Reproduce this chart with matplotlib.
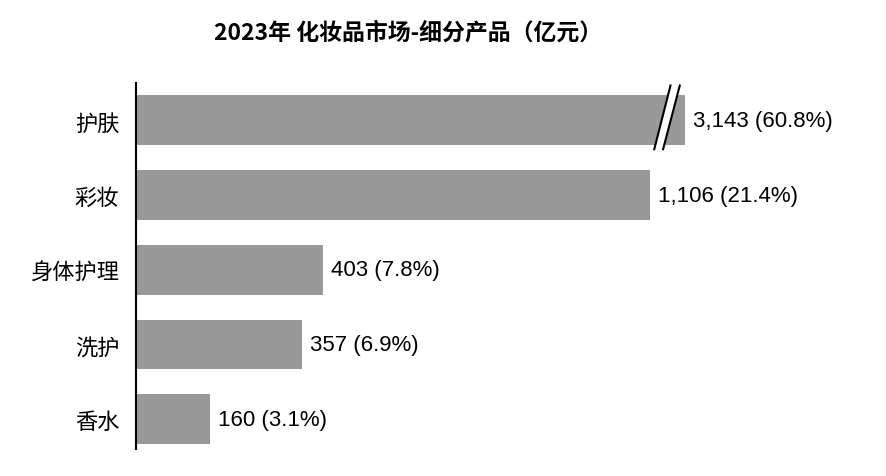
import matplotlib.pyplot as plt

plt.rcParams['font.family'] = ['Liberation Sans', 'Noto Sans CJK SC', 'DejaVu Sans']

categories = ['护肤', '彩妆', '身体护理', '洗护', '香水']
values = [3143, 1106, 403, 357, 160]
shares = [60.8, 21.4, 7.8, 6.9, 3.1]
title = '2023年 化妆品市场-细分产品（亿元）'

# first bar is cut with a break mark, drawn only this long
cap = 1180
shown = [min(v, cap) for v in values]

fig = plt.figure(figsize=(8.86, 4.77), dpi=100)
ax = fig.add_axes([136 / 886, 27 / 477, 750 / 886, 366 / 477])

ypos = list(range(len(categories)))
ax.barh(ypos, shown, height=0.667, color='#999999', zorder=2)

for y, v, s, w in zip(ypos, values, shares, shown):
    ax.text(w + 17, y, f'{v:,} ({s}%)', va='center', ha='left', fontsize=16,
            family=['Liberation Sans', 'DejaVu Sans'], zorder=4)

# break mark on the long bar
yb, yt = 0.4, -0.48
x1b, x1t = cap - 66, cap - 30
x2b, x2t = cap - 47, cap - 10
ax.fill([x1b, x1t, x2t, x2b], [yb, yt, yt, yb], color='white', zorder=3, lw=0)
ax.plot([x1b, x1t], [yb, yt], color='black', lw=1.5, zorder=3, solid_capstyle='butt')
ax.plot([x2b, x2t], [yb, yt], color='black', lw=1.5, zorder=3, solid_capstyle='butt')

ax.set_xlim(0, 750 / 0.465)
ax.set_ylim(4.4, -0.5)
ax.set_yticks(ypos)
ax.set_yticklabels(categories, fontsize=16, family=['Noto Sans CJK SC', 'DejaVu Sans'])
ax.tick_params(axis='y', length=0, pad=12)
ax.set_xticks([])
for side in ['top', 'right', 'bottom']:
    ax.spines[side].set_visible(False)
ax.spines['left'].set_linewidth(1.5)
ax.spines['left'].set_color('black')

fig.text(408 / 886, 1 - 33 / 477, title, ha='center', va='center', fontsize=16.5,
         fontweight='bold', family=['Noto Sans CJK SC', 'DejaVu Sans'])

fig.savefig('out.png', dpi=100, facecolor='white')
